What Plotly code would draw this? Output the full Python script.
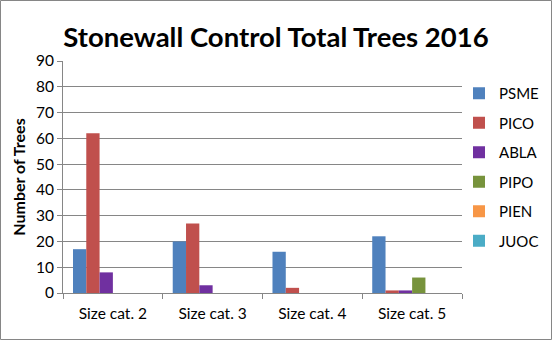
import plotly.graph_objects as go

categories = ["Size cat. 2", "Size cat. 3", "Size cat. 4", "Size cat. 5"]
species = ["PSME", "PICO", "ABLA", "PIPO", "PIEN", "JUOC"]
psme = [17, 20, 16, 22]
pico = [62, 27, 2, 1]
abla = [8, 3, 0, 1]
pipo = [0, 0, 0, 6]
pien = [0, 0, 0, 0]
juoc = [0, 0, 0, 0]
values = [psme, pico, abla, pipo, pien, juoc]
colors = ["#4F81BD", "#C0504D", "#7030A0", "#77933C", "#F79646", "#4BACC6"]
y_ticks = [0, 10, 20, 30, 40, 50, 60, 70, 80, 90]

W, H = 552, 340
L, R, T, B = 63, 90, 61, 47
pw = W - L - R
ph = H - T - B

fig = go.Figure()
for name, vals, col in zip(species, values, colors):
    fig.add_trace(go.Bar(x=categories, y=vals, name=name, marker_color=col,
                         marker_line_width=0, legendgroup=name))

fig.update_layout(
    width=W, height=H,
    margin=dict(l=L, r=R, t=T, b=B, autoexpand=False),
    paper_bgcolor="white", plot_bgcolor="white",
    font=dict(family="Lato", color="#000000"),
    barmode="group", bargap=0.2, bargroupgap=0,
    title=dict(text="<b>Stonewall Control Total Trees 2016</b>", x=0.5, xanchor="center",
               y=1 - 37 / H, yanchor="middle", font=dict(size=27.5, family="Lato")),
    legend=dict(x=(459 - L) / pw, xanchor="left", y=1 - 16 / ph, yanchor="top",
                font=dict(size=15), tracegroupgap=7, bgcolor="rgba(0,0,0,0)"),
    xaxis=dict(showline=True, linecolor="#868686", ticks="outside", ticklen=5,
               tickcolor="#868686", tickson="boundaries", tickfont=dict(size=15.5),
               ticklabelstandoff=6, showgrid=False),
    yaxis=dict(range=[0, 90], tickvals=y_ticks, showline=True, linecolor="#868686",
               ticks="outside", ticklen=5, tickcolor="#868686", gridcolor="#868686",
               gridwidth=1, tickfont=dict(size=15.5), zeroline=False,
               title=dict(text="<b>Number of Trees</b>", font=dict(size=16), standoff=6)),
    shapes=[dict(type="rect", xref="paper", yref="paper",
                 x0=(0.5 - L) / pw, x1=(W - 0.5 - L) / pw,
                 y0=-(B - 0.5) / ph, y1=1 + (T - 0.5) / ph,
                 line=dict(color="#868686", width=1),
                 fillcolor="rgba(0,0,0,0)", layer="below")],
)
fig.write_html("out.html")
